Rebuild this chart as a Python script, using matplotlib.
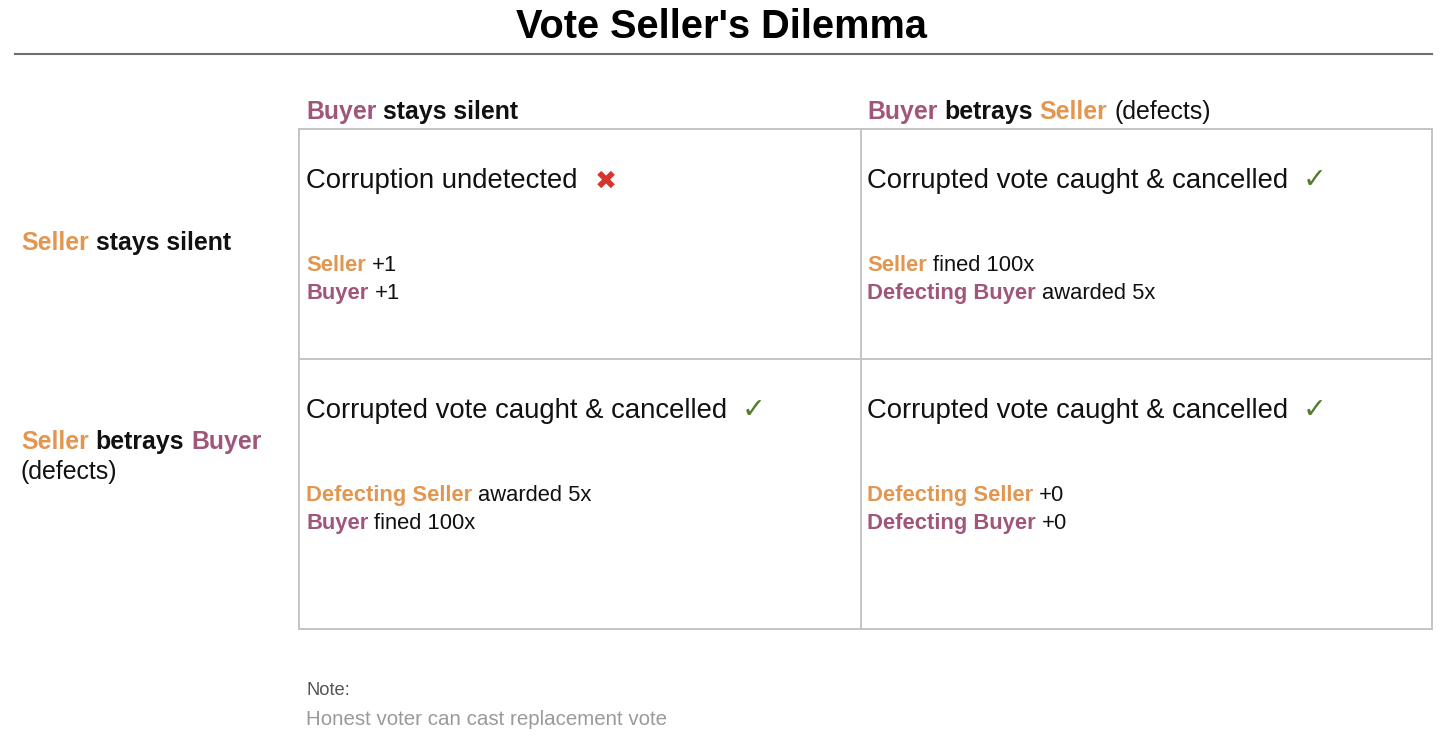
import matplotlib
matplotlib.use('Agg')
import matplotlib.pyplot as plt

ORANGE = '#E2964F'
PURPLE = '#A0557A'
BLACK = '#111111'
GREEN = '#4F7F2A'
RED = '#D8342B'

TITLE = "Vote Seller's Dilemma"

# column / row headers: (text, colour, bold)
COL_HEADERS = [
    [('Buyer', PURPLE, True), ('stays silent', BLACK, True)],
    [('Buyer', PURPLE, True), ('betrays', BLACK, True), ('Seller', ORANGE, True), ('(defects)', BLACK, False)],
]
ROW_HEADERS = [
    [[('Seller', ORANGE, True), ('stays silent', BLACK, True)]],
    [[('Seller', ORANGE, True), ('betrays', BLACK, True), ('Buyer', PURPLE, True)],
     [('(defects)', BLACK, False)]],
]

# outcome per cell, row by row, and whether corruption was caught
OUTCOMES = [
    ['Corruption undetected', 'Corrupted vote caught & cancelled'],
    ['Corrupted vote caught & cancelled', 'Corrupted vote caught & cancelled'],
]
CAUGHT = [[False, True], [True, True]]

PAYOFFS = [
    [
        [[('Seller', ORANGE, True), ('+1', BLACK, False)],
         [('Buyer', PURPLE, True), ('+1', BLACK, False)]],
        [[('Seller', ORANGE, True), ('fined 100x', BLACK, False)],
         [('Defecting Buyer', PURPLE, True), ('awarded 5x', BLACK, False)]],
    ],
    [
        [[('Defecting Seller', ORANGE, True), ('awarded 5x', BLACK, False)],
         [('Buyer', PURPLE, True), ('fined 100x', BLACK, False)]],
        [[('Defecting Seller', ORANGE, True), ('+0', BLACK, False)],
         [('Defecting Buyer', PURPLE, True), ('+0', BLACK, False)]],
    ],
]

NOTE_LABEL = 'Note:'
NOTE_TEXT = 'Honest voter can cast replacement vote'

W, H = 1455, 739
plt.rcParams['font.family'] = ['Liberation Sans', 'DejaVu Sans']

fig = plt.figure(figsize=(W / 100, H / 100), dpi=100)
ax = fig.add_axes([0, 0, 1, 1])
ax.set_xlim(0, W)
ax.set_ylim(H, 0)
ax.axis('off')
renderer = fig.canvas.get_renderer()


def text_width(s, size, bold):
    t = ax.text(0, 0, s, fontsize=size, fontweight='bold' if bold else 'normal')
    w = t.get_window_extent(renderer).width
    t.remove()
    return w


def rich(x, y, pieces, size):
    # draw coloured pieces one after the other on one baseline
    for s, color, bold in pieces:
        t = ax.text(x, y, s, fontsize=size, color=color, va='baseline', ha='left',
                    fontweight='bold' if bold else 'normal')
        w = t.get_window_extent(renderer).width
        space = text_width('x x', size, bold) - text_width('xx', size, bold)
        x += w + space
    return x


# title and rule
ax.text(722, 38, TITLE, fontsize=28.6, fontweight='bold', ha='center', va='baseline', color='black')
ax.plot([15, 1432], [54, 54], color='#6E6E6E', lw=1.5)

# grid
x0, xm, x1 = 299, 861, 1432
y0, ym, y1 = 129, 359, 629
for yy in (y0, ym, y1):
    ax.plot([x0, x1], [yy, yy], color='#C4C4C4', lw=1.4)
for xx in (x0, xm, x1):
    ax.plot([xx, xx], [y0, y1], color='#C4C4C4', lw=1.4)

col_x = [306, 867]
row_top = [y0, ym]

for j, pieces in enumerate(COL_HEADERS):
    rich(col_x[j], 119, pieces, 17.9)

row_label_y = [250, 449]
for i, lines in enumerate(ROW_HEADERS):
    for k, pieces in enumerate(lines):
        rich(21, row_label_y[i] + 30 * k, pieces, 17.9)

for i in range(2):
    for j in range(2):
        base = row_top[i] + 59
        t = ax.text(col_x[j], base, OUTCOMES[i][j], fontsize=19.8, color=BLACK, va='baseline')
        end = col_x[j] + t.get_window_extent(renderer).width
        if CAUGHT[i][j]:
            ax.text(end + 15, base, '\u2713', fontsize=20.5, color=GREEN, va='baseline',
                    family='DejaVu Sans')
        else:
            ax.text(end + 17, base + 1, '\u2716', fontsize=19, color=RED, va='baseline',
                    family='DejaVu Sans')
        for k, pieces in enumerate(PAYOFFS[i][j]):
            rich(col_x[j], row_top[i] + 142 + 28 * k, pieces, 15.8)

ax.text(306, 695, NOTE_LABEL, fontsize=13.2, color='#555555', va='baseline')
ax.text(306, 725, NOTE_TEXT, fontsize=14.8, color='#9A9A9A', va='baseline')

fig.savefig('out.png', dpi=100)
